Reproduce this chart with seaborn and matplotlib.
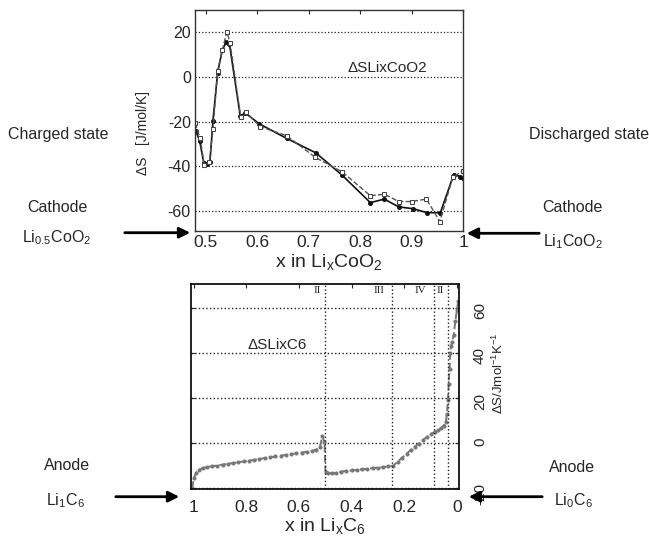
import matplotlib
matplotlib.use('Agg')
import matplotlib.pyplot as plt
import seaborn as sns

# Entropy of Li_xCoO2 (cathode), two measurements
x_coo2_a = [0.480, 0.488, 0.496, 0.503, 0.508, 0.514, 0.523, 0.532, 0.540, 0.546,
            0.567, 0.577, 0.604, 0.657, 0.714, 0.765, 0.820, 0.847, 0.875, 0.903,
            0.930, 0.956, 0.982, 0.995, 1.000]
ds_coo2_a = [-24, -28.5, -38.5, -38.8, -38, -19.5, 2, 12, 15.8, 14.7,
             -17.5, -16.2, -21, -27.5, -34, -44, -56.3, -54.7, -58.2, -59,
             -60.8, -60.8, -43.7, -44.6, -45.2]
x_coo2_b = [0.479, 0.489, 0.497, 0.507, 0.514, 0.523, 0.532, 0.541, 0.547, 0.568,
            0.578, 0.606, 0.657, 0.713, 0.765, 0.820, 0.847, 0.875, 0.900, 0.929,
            0.955, 0.980, 1.000]
ds_coo2_b = [-20.7, -27.4, -39.5, -38.3, -23.2, 2.7, 12, 20.3, 15.3, -18,
             -15.8, -22.3, -26.3, -36, -42.5, -53.2, -52.5, -55.8, -55.8, -54.7,
             -64.8, -45, -42]

# Entropy of Li_xC6 (anode)
x_c6 = [1.005, 1.0, 0.99, 0.98, 0.965, 0.95, 0.93, 0.91, 0.89, 0.87, 0.85, 0.83,
        0.81, 0.79, 0.77, 0.75, 0.73, 0.71, 0.69, 0.67, 0.65, 0.63, 0.61, 0.59,
        0.57, 0.55, 0.535, 0.52, 0.511, 0.503, 0.499, 0.49, 0.475, 0.46, 0.44,
        0.42, 0.40, 0.38, 0.36, 0.34, 0.32, 0.30, 0.28, 0.26, 0.242, 0.225, 0.21,
        0.19, 0.175, 0.16, 0.145, 0.13, 0.115, 0.10, 0.085, 0.07, 0.06, 0.05,
        0.042, 0.038, 0.034, 0.031, 0.028, 0.025, 0.022, 0.018, 0.012, 0.006,
        0.0, -0.005]
ds_c6 = [-20, -15.6, -13, -11.8, -11, -10.6, -10.2, -9.9, -9.5, -9.1, -8.8, -8.4,
         -8.1, -7.7, -7.4, -7.0, -6.6, -6.3, -5.9, -5.6, -5.2, -4.9, -4.5, -4.2,
         -3.8, -3.4, -2.9, -1.5, 3.3, 0.5, -12.6, -13.2, -13.4, -13.2, -12.6,
         -12.3, -12.1, -11.8, -11.6, -11.3, -11.1, -10.8, -10.6, -10.3, -10.0, -8.2, -6.6,
         -4.6, -3.0, -1.5, -0.2, 1.3, 2.7, 3.9, 5.0, 6.0, 6.7, 7.8,
         9.5, 13, 19, 26, 33, 40, 43, 45, 48, 54,
         59, 63]

# staging boundaries and their labels
stage_x = [0.5, 0.245, 0.088, 0.035]
stage_labels = ['II', 'III', 'IV', 'II']
stage_label_x = [0.53, 0.297, 0.137, 0.065]

sns.set_style('white')
plt.rcParams['font.family'] = ['Liberation Sans', 'DejaVu Sans']
plt.rcParams['mathtext.default'] = 'regular'
plt.rcParams['axes.unicode_minus'] = False

W, H = 649, 541
fig = plt.figure(figsize=(W / 100, H / 100), dpi=100)


def fx(px):
  return px / W


def fy(py):
  return 1 - py / H


ax1 = fig.add_axes([fx(195), fy(231), 268 / W, 221 / H])
ax2 = fig.add_axes([fx(191), fy(489), 268 / W, 205 / H])

# --- cathode panel
sns.lineplot(x=x_coo2_a, y=ds_coo2_a, ax=ax1, sort=False, color='#111111',
             linewidth=1.2, marker='o', markersize=2.8,
             markeredgecolor='#111111')
sns.lineplot(x=x_coo2_b, y=ds_coo2_b, ax=ax1, sort=False, color='#555555',
             linewidth=1.0, linestyle='--', marker='s', markersize=3.2,
             markerfacecolor='white', markeredgecolor='#444444')
ax1.set_xlim(0.479, 1.0)
ax1.set_ylim(-69, 30)
ax1.set_xticks([0.5, 0.6, 0.7, 0.8, 0.9, 1.0])
ax1.set_xticklabels(['0.5', '0.6', '0.7', '0.8', '0.9', '1'], fontsize=12.5)
ax1.set_yticks([-60, -40, -20, 0, 20])
ax1.set_yticklabels(['-60', '-40', '-20', '0', '20'], fontsize=11.5)
ax1.grid(axis='y', linestyle=':', color='#222222', linewidth=0.9)
ax1.tick_params(direction='in', top=True, length=3, pad=3)
ax1.set_xlabel('x in Li$_x$CoO$_2$', fontsize=14, labelpad=1)
ax1.text(0.853, 4, 'ΔSLixCoO2', fontsize=11, ha='center', va='center')
for s in ax1.spines.values():
  s.set_color('#333333')
  s.set_linewidth(1.0)
fig.text(fx(143), fy(133), 'ΔS   [J/mol/K]', rotation=90, fontsize=10,
         ha='center', va='center')

# --- anode panel
sns.lineplot(x=x_c6, y=ds_c6, ax=ax2, sort=False, color='#777777',
             linewidth=1.4, linestyle='--', marker='o', markersize=2.2,
             markeredgecolor='#777777')
ax2.set_xlim(1.01, -0.008)
ax2.set_ylim(-20.3, 70.5)
ax2.set_xticks([1.0, 0.8, 0.6, 0.4, 0.2, 0.0])
ax2.set_xticklabels(['1', '0.8', '0.6', '0.4', '0.2', '0'], fontsize=12.5)
ax2.set_yticks([-20, 0, 20, 40, 60])
ax2.set_yticklabels(['-20', '0', '20', '40', '60'], fontsize=11)
ax2.yaxis.tick_right()
ax2.tick_params(axis='y', labelrotation=90, left=True, right=True,
                direction='in', length=3, pad=10)
ax2.tick_params(axis='x', direction='in', top=True, length=3, pad=8)
ax2.grid(axis='y', linestyle=':', color='#222222', linewidth=1.0)
for sx in stage_x:
  ax2.axvline(sx, linestyle=':', color='#222222', linewidth=1.0)
for lx, lab in zip(stage_label_x, stage_labels):
  ax2.text(lx, 67.4, lab, family=['Liberation Serif', 'DejaVu Serif'],
           fontsize=8, ha='center', va='center')
ax2.text(0.683, 43.7, 'ΔSLixC6', fontsize=11, ha='center', va='center')
ax2.set_xlabel('x in Li$_x$C$_6$', fontsize=14, labelpad=1)
for s in ax2.spines.values():
  s.set_color('#111111')
  s.set_linewidth(1.3)
fig.text(fx(498), fy(373), 'ΔS/Jmol$^{-1}$K$^{-1}$', rotation=90,
         fontsize=9.5, ha='center', va='center')

# --- side labels and arrows
side = [
  ('Charged state', 58, 134), ('Cathode', 57, 207),
  ('Li$_{0.5}$CoO$_2$', 57, 238),
  ('Discharged state', 589, 134), ('Cathode', 572, 207),
  ('Li$_1$CoO$_2$', 573, 242),
  ('Anode', 67, 466), ('Li$_1$C$_6$', 65, 501),
  ('Anode', 572, 467), ('Li$_0$C$_6$', 573, 501),
]
for txt, px, py in side:
  fig.text(fx(px), fy(py), txt, fontsize=11.5, ha='center', va='center')

arrows = [((122, 232.7), (193, 232.7)), ((542, 233.3), (464, 233.3)),
          ((113, 496.7), (182, 496.7)), ((545, 496.7), (466, 496.7))]
for (x0, y0), (x1, y1) in arrows:
  fig.add_artist(matplotlib.patches.FancyArrowPatch(
    (fx(x0), fy(y0)), (fx(x1), fy(y1)), transform=fig.transFigure,
    arrowstyle='-|>', mutation_scale=16, linewidth=2, color='black'))

fig.savefig('out.png', dpi=100)
